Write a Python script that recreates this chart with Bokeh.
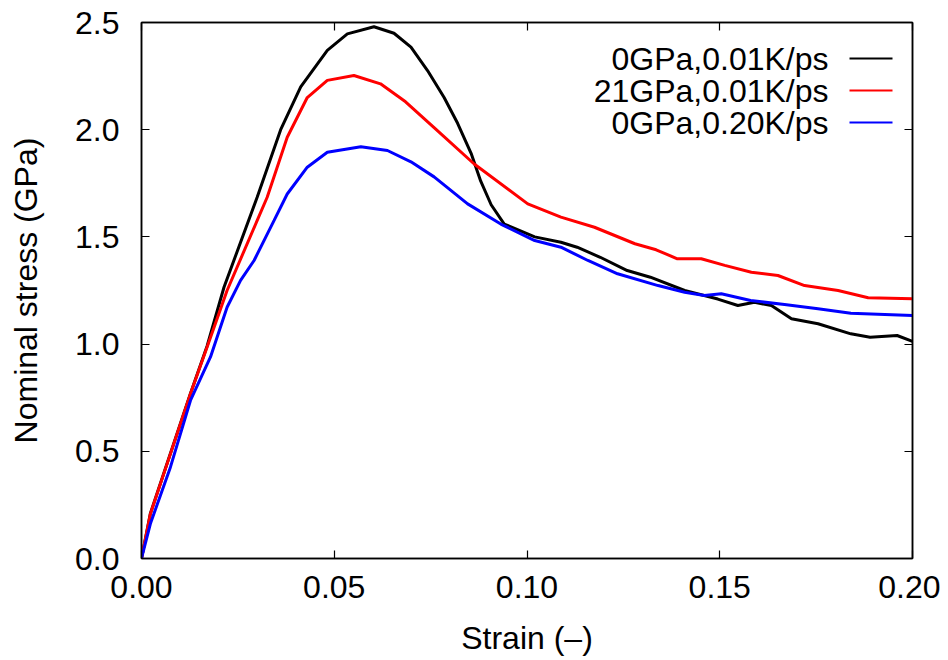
from bokeh.plotting import figure
from bokeh.models import (Range1d, LinearAxis, SingleIntervalTicker, NumeralTickFormatter,
                          CustomJSTickFormatter, Label, BoxAnnotation)
from bokeh.embed import file_html
from bokeh.resources import INLINE

# ---- data ----
strain_a = [0, 0.0023, 0.0075, 0.0127, 0.017, 0.0214, 0.030, 0.0361, 0.0413, 0.0482, 0.0534,
            0.0603, 0.0655, 0.0699, 0.0742, 0.0785, 0.082, 0.0855, 0.088, 0.0907, 0.0941,
            0.102, 0.1088, 0.113, 0.119, 0.126, 0.132, 0.1409, 0.1495, 0.1547, 0.159, 0.1634,
            0.1686, 0.1755, 0.184, 0.189, 0.196, 0.2]
stress_a = [0, 0.21, 0.49, 0.77, 0.99, 1.265, 1.685, 2.0, 2.20, 2.37, 2.447,
            2.48, 2.45, 2.385, 2.276, 2.15, 2.03, 1.89, 1.76, 1.65, 1.56,
            1.50, 1.475, 1.452, 1.405, 1.343, 1.312, 1.25, 1.21, 1.18, 1.195, 1.18,
            1.118, 1.095, 1.048, 1.032, 1.04, 1.013]

strain_b = [0, 0.0023, 0.0075, 0.0127, 0.017, 0.0222, 0.0326, 0.0378, 0.043, 0.0482, 0.0551,
            0.062, 0.0685, 0.0759, 0.0863, 0.1002, 0.1088, 0.1175, 0.128, 0.1335, 0.139,
            0.1452, 0.1513, 0.1582, 0.1651, 0.172, 0.1807, 0.1885, 0.2]
stress_b = [0, 0.208, 0.488, 0.768, 0.985, 1.25, 1.685, 1.965, 2.15, 2.23, 2.253,
            2.214, 2.13, 2.01, 1.84, 1.654, 1.592, 1.545, 1.468, 1.44, 1.398,
            1.398, 1.367, 1.335, 1.32, 1.273, 1.25, 1.216, 1.211]

strain_c = [0, 0.0023, 0.0075, 0.0127, 0.0179, 0.0222, 0.0257, 0.0292, 0.0344, 0.0378, 0.043,
            0.0482, 0.0569, 0.0638, 0.0699, 0.0759, 0.0846, 0.0932, 0.102, 0.1088, 0.1158,
            0.1235, 0.134, 0.1409, 0.146, 0.1504, 0.158, 0.1668, 0.1755, 0.184, 0.1928, 0.2]
stress_c = [0, 0.162, 0.426, 0.737, 0.94, 1.172, 1.297, 1.39, 1.577, 1.70, 1.825,
            1.895, 1.92, 1.903, 1.85, 1.78, 1.654, 1.56, 1.483, 1.452, 1.39,
            1.328, 1.273, 1.242, 1.227, 1.235, 1.203, 1.185, 1.165, 1.144, 1.138, 1.133]

series_labels = ["0GPa,0.01K/ps", "21GPa,0.01K/ps", "0GPa,0.20K/ps"]
series_colors = ["black", "red", "blue"]

x_label = "Strain (\u2013)"
y_label = "Nominal stress (GPa)"

FONT = "Liberation Sans"
FS = "32px"

p = figure(width=940, height=660, output_backend="svg", toolbar_location=None,
           x_range=Range1d(0, 0.2), y_range=Range1d(0, 2.5),
           x_axis_location=None, y_axis_location=None,
           min_border_left=141, min_border_right=28, min_border_top=22, min_border_bottom=102)
p.grid.visible = False
p.outline_line_color = "black"
p.outline_line_width = 1.5
p.background_fill_color = "white"
p.border_fill_color = "white"

def make_axis(show_labels, fmt):
    ax = LinearAxis(ticker=SingleIntervalTicker(interval=0.05 if fmt == "0.00" else 0.5))
    ax.major_tick_in = 8
    ax.major_tick_out = 0
    ax.minor_tick_in = 0
    ax.minor_tick_out = 0
    ax.major_tick_line_color = "black"
    ax.major_tick_line_width = 1.2
    ax.axis_line_color = "black"
    ax.axis_line_width = 1.5
    if show_labels:
        ax.formatter = NumeralTickFormatter(format=fmt)
        ax.major_label_text_font = FONT
        ax.major_label_text_font_size = FS
        ax.major_label_text_color = "black"
        ax.axis_label_text_font = FONT
        ax.axis_label_text_font_size = FS
        ax.axis_label_text_font_style = "normal"
        ax.axis_label_text_color = "black"
    else:
        ax.formatter = CustomJSTickFormatter(code="return ''")
        ax.major_label_standoff = 0
        ax.axis_label_standoff = 0
    return ax

xb = make_axis(True, "0.00")
xb.axis_label = x_label
xb.major_label_standoff = 17
xb.axis_label_standoff = 19
p.add_layout(xb, "below")

yl = make_axis(True, "0.0")
yl.axis_label = y_label
yl.major_label_standoff = 22
yl.axis_label_standoff = 28
p.add_layout(yl, "left")

p.add_layout(make_axis(False, "0.00"), "above")
p.add_layout(make_axis(False, "0.0"), "right")

for xs, ys, c in zip([strain_a, strain_b, strain_c], [stress_a, stress_b, stress_c], series_colors):
    p.line(xs, ys, line_color=c, line_width=3)

# custom key (screen units are frame-relative, y up): text right-aligned, sample line to the right
row_y = [500, 468, 436]
for lab, c, yy in zip(series_labels, series_colors, row_y):
    p.add_layout(Label(x=687, y=yy, x_units="screen", y_units="screen", text=lab,
                       text_align="right", text_baseline="middle",
                       text_font=FONT, text_font_size=FS, text_color="black"))
    p.add_layout(BoxAnnotation(left=708, right=751, top=yy + 1, bottom=yy - 1,
                               left_units="screen", right_units="screen",
                               top_units="screen", bottom_units="screen",
                               fill_color=c, fill_alpha=1.0, line_color=None))

open("out.html", "w").write(file_html(p, INLINE))
